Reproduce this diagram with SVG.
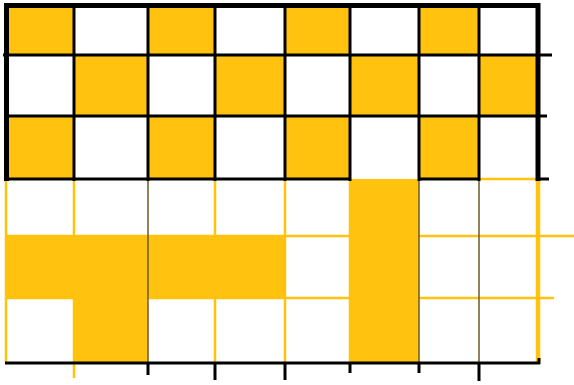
<svg xmlns="http://www.w3.org/2000/svg" width="574" height="385" viewBox="0 0 574 385">
<style>
.f{fill:#FFC20E}
.k{stroke:#000;stroke-width:3;fill:none;stroke-linecap:butt}
.kb{stroke:#000;stroke-width:5;fill:none}
.y{stroke:#FFC20E;stroke-width:2.5;fill:none}
.d{stroke:#6b5a22;stroke-width:1.5;fill:none}
</style>
<rect width="574" height="385" fill="#fff"/>
<g id="top-fills">
<rect class="f" x="6" y="5" width="68" height="50"/>
<rect class="f" x="148" y="5" width="67" height="50"/>
<rect class="f" x="285" y="5" width="65" height="50"/>
<rect class="f" x="419" y="5" width="60" height="50"/>
<rect class="f" x="74" y="55" width="74" height="61"/>
<rect class="f" x="215" y="55" width="70" height="61"/>
<rect class="f" x="350" y="55" width="69" height="61"/>
<rect class="f" x="479" y="55" width="59" height="61"/>
<rect class="f" x="6" y="116" width="68" height="63"/>
<rect class="f" x="148" y="116" width="67" height="63"/>
<rect class="f" x="285" y="116" width="65" height="63"/>
<rect class="f" x="419" y="116" width="60" height="63"/>
</g>
<g id="bottom-fills">
<rect class="f" x="6" y="236" width="279" height="62"/>
<rect class="f" x="74" y="298" width="74" height="65"/>
<rect class="f" x="350" y="179" width="69" height="184"/>
</g>
<g id="bottom-lines">
<line class="y" x1="6" y1="236" x2="574" y2="236"/>
<line class="y" x1="6" y1="298" x2="554" y2="298"/>
<line class="y" x1="6" y1="179" x2="6" y2="363"/>
<line class="y" x1="74" y1="179" x2="74" y2="378"/>
<line class="d" x1="148" y1="179" x2="148" y2="363"/>
<line class="y" x1="215" y1="179" x2="215" y2="363"/>
<line class="y" x1="285" y1="179" x2="285" y2="363"/>
<line class="y" x1="350" y1="179" x2="350" y2="363"/>
<line class="d" x1="419" y1="179" x2="419" y2="363"/>
<line class="d" x1="479" y1="179" x2="479" y2="363"/>
<line class="y" x1="479" y1="179" x2="538" y2="179"/>
<line stroke="#FFC20E" stroke-width="4.5" x1="538" y1="179" x2="538" y2="363"/>
</g>
<g id="top-lines">
<line class="kb" x1="4" y1="5.5" x2="540" y2="5.5"/>
<line class="kb" x1="6.5" y1="3" x2="6.5" y2="181"/>
<line class="kb" x1="538" y1="3" x2="538" y2="181"/>
<line class="k" x1="3" y1="55" x2="552" y2="55"/>
<line class="k" x1="6" y1="116" x2="547" y2="116"/>
<line class="k" x1="4" y1="179" x2="350" y2="179"/>
<line class="k" x1="419" y1="179" x2="479" y2="179"/>
<line class="k" x1="536" y1="179" x2="549" y2="179"/>
<line class="k" x1="74" y1="5" x2="74" y2="181"/>
<line class="k" x1="148" y1="5" x2="148" y2="181"/>
<line class="k" x1="215" y1="5" x2="215" y2="181"/>
<line class="k" x1="285" y1="5" x2="285" y2="181"/>
<line class="k" x1="350" y1="5" x2="350" y2="181"/>
<line class="k" x1="419" y1="5" x2="419" y2="181"/>
<line class="k" x1="479" y1="5" x2="479" y2="181"/>
</g>
<g id="base-line">
<line class="k" x1="5" y1="363" x2="540" y2="363"/>
<line class="k" x1="539" y1="358" x2="539" y2="364"/>
<line class="k" x1="148" y1="363" x2="148" y2="375"/>
<line class="k" x1="215" y1="363" x2="215" y2="380"/>
<line class="k" x1="285" y1="363" x2="285" y2="380"/>
<line class="k" x1="350" y1="363" x2="350" y2="373"/>
<line class="k" x1="419" y1="363" x2="419" y2="373"/>
<line class="k" x1="479" y1="363" x2="479" y2="381"/>
</g>
</svg>
